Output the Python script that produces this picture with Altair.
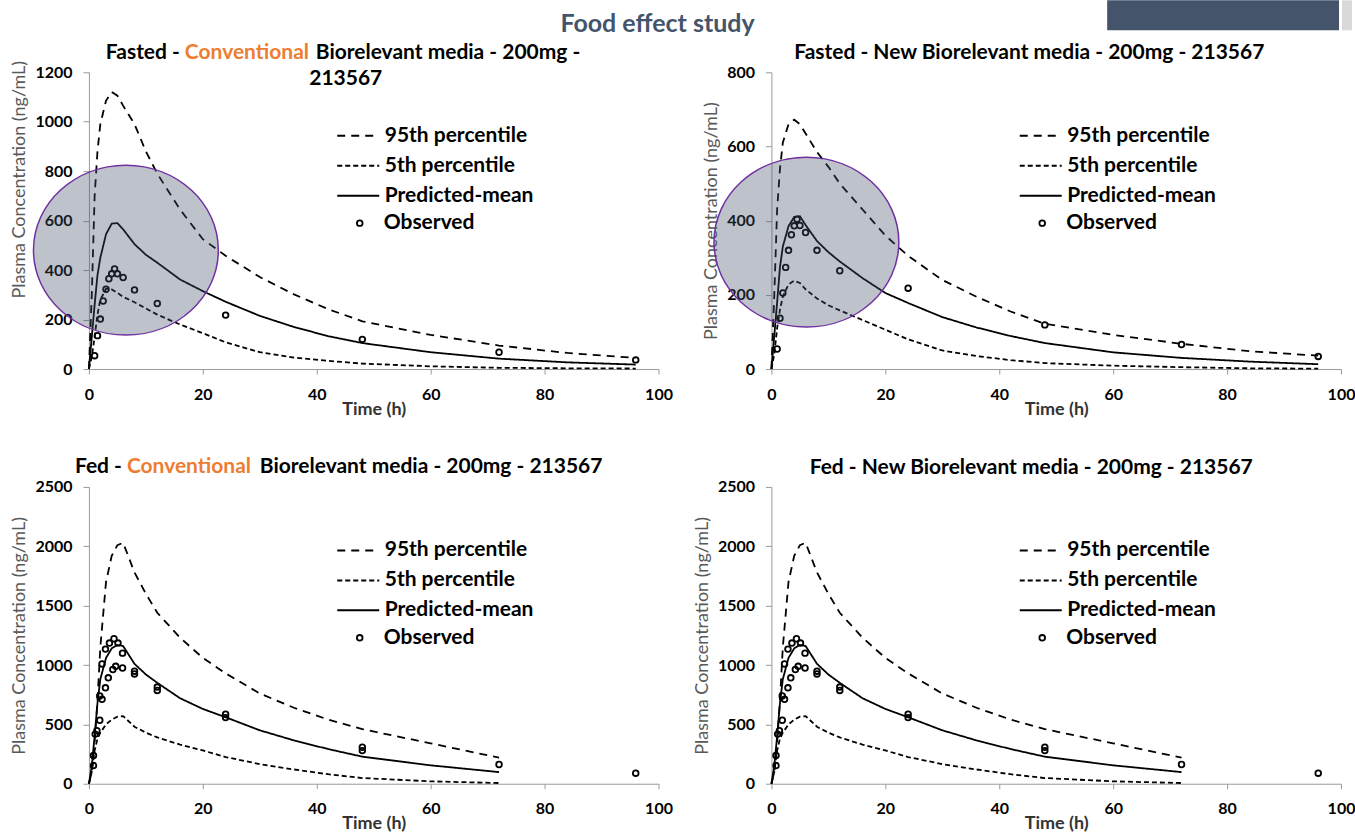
import altair as alt
import pandas as pd

FONT = "Lato"

# ---------------- data ----------------
t_fast = [0, 0.5, 1, 1.5, 2, 3, 4, 5, 6, 8, 10, 12, 16, 20, 24, 30, 36, 42, 48, 60, 72, 84, 96]
t_fed = [0, 0.5, 1, 1.5, 2, 3, 4, 5, 6, 8, 10, 12, 16, 20, 24, 30, 36, 42, 48, 60, 72]

# Fasted - Conventional
fc_p95 = [0, 300, 700, 880, 990, 1085, 1120, 1105, 1065, 990, 880, 790, 645, 525, 458, 372, 302, 242, 193, 138, 95, 65, 45]
fc_mean = [0, 130, 260, 380, 450, 545, 588, 590, 565, 505, 462, 430, 362, 315, 272, 215, 170, 133, 105, 68, 42, 27, 18]
fc_p5 = [0, 50, 130, 220, 280, 325, 322, 308, 292, 270, 245, 220, 180, 145, 108, 68, 46, 33, 22, 11, 5, 3, 2]
fc_obs_t = [1, 1.5, 2, 2.5, 3, 3.5, 4, 4.5, 5, 6, 8, 12, 24, 48, 72, 96]
fc_obs_c = [54, 135, 202, 275, 323, 365, 385, 405, 385, 370, 320, 265, 218, 120, 68, 37]

# Fasted - New
fn_p95 = [0, 200, 430, 540, 610, 660, 672, 660, 635, 585, 545, 500, 430, 360, 305, 240, 195, 155, 122, 92, 68, 48, 36]
fn_mean = [0, 90, 180, 275, 330, 385, 410, 412, 388, 345, 315, 290, 245, 205, 178, 140, 112, 89, 70, 45, 30, 20, 13]
fn_p5 = [0, 40, 110, 160, 195, 228, 238, 232, 215, 190, 172, 158, 132, 106, 80, 50, 35, 24, 16, 9, 5, 2, 1]
fn_obs_t = [1, 1.5, 2, 2.5, 3, 3.5, 4, 4.5, 5, 6, 8, 12, 24, 48, 72, 96]
fn_obs_c = [54, 137, 205, 274, 320, 362, 386, 404, 387, 368, 320, 265, 218, 119, 66, 34]

# Fed (conventional and new look the same)
fed_p95 = [0, 100, 350, 700, 1150, 1700, 1920, 2010, 2030, 1780, 1600, 1440, 1230, 1060, 930, 760, 640, 540, 460, 340, 220]
fed_mean = [0, 150, 400, 680, 880, 1060, 1140, 1170, 1160, 1010, 920, 850, 720, 630, 560, 450, 365, 292, 228, 155, 98]
fed_p5 = [0, 100, 280, 380, 430, 500, 540, 565, 570, 480, 430, 390, 330, 280, 225, 165, 120, 80, 48, 20, 6]
fed_obs_t = [0.8, 0.8, 1.1, 1.4, 1.9, 1.9, 2.3, 2.3, 2.9, 3.4, 2.9, 3.6, 4.2, 4.7, 4.4, 5.1, 5.9, 5.9,
             8, 8, 12, 12, 24, 24, 48, 48, 72, 96]
fed_obs_c = [153, 237, 418, 446, 535, 739, 711, 1009, 808, 892, 1134, 1185, 962, 989, 1221, 1185, 975, 1100,
             948, 925, 814, 786, 585, 557, 307, 279, 162, 89]

SERIES = ["95th percentile", "5th percentile", "Predicted-mean"]
W, H = 570, 297

ELLIPSE = ("M1,0 C1,0.5076 0.5523,0.919 0,0.919 C-0.5523,0.919 -1,0.5076 -1,0 "
           "C-1,-0.5076 -0.5523,-0.919 0,-0.919 C0.5523,-0.919 1,-0.5076 1,0 Z")


def one():
    return alt.Data(values=[{"k": 1}])


def txt(text, x, y, align="center", color="black", size=21, weight="bold"):
    return alt.Chart(one()).mark_text(
        text=text, align=align, baseline="middle", font=FONT, fontSize=size,
        fontWeight=weight, color=color
    ).encode(x=alt.value(x), y=alt.value(y))


def panel(times, p95, p5, mean, obs_t, obs_c, ymax, ystep, texts, ellipse=None, extra=None, ytitle_y=None):
    rows = []
    for name, vals in zip(SERIES, [p95, p5, mean]):
        for t, c in zip(times, vals):
            rows.append({"t": t, "c": c, "series": name})
    df = pd.DataFrame(rows)
    obs = pd.DataFrame({"t": obs_t, "c": obs_c})

    xaxis = alt.Axis(values=[0, 20, 40, 60, 80, 100], title="Time (h)", grid=False, format="d",
                     tickSize=5, labelPadding=12, domainColor="#9a9a9a", tickColor="#9a9a9a",
                     labelFont=FONT, labelFontSize=16, labelFontWeight="bold", labelColor="black",
                     titleFont=FONT, titleFontSize=18, titleFontWeight="bold", titleColor="#333333",
                     titlePadding=-2, labelFlush=False)
    yargs = dict(values=list(range(0, ymax + 1, ystep)), title="Plasma Concentration (ng/mL)",
                 grid=False, format="d", tickSize=6, labelPadding=11, domainColor="#9a9a9a",
                 tickColor="#9a9a9a", labelFont=FONT, labelFontSize=16, labelFontWeight="bold",
                 labelColor="black", titleFont=FONT, titleFontSize=18, titleFontWeight="normal",
                 titleColor="#595959", titlePadding=6)
    if ytitle_y is not None:
        yargs["titleY"] = ytitle_y
    yaxis = alt.Axis(**yargs)
    xs = alt.Scale(domain=[0, 100], nice=False)
    ys = alt.Scale(domain=[0, ymax], nice=False)

    lines = alt.Chart(df).mark_line(color="black", strokeWidth=1.8).encode(
        x=alt.X("t:Q", scale=xs, axis=xaxis),
        y=alt.Y("c:Q", scale=ys, axis=yaxis),
        strokeDash=alt.StrokeDash(
            "series:N",
            scale=alt.Scale(domain=SERIES, range=[[8, 6], [5, 3], [1, 0]]),
            legend=alt.Legend(title=None, orient="none", legendX=258, legendY=52, padding=0,
                              symbolType="M-2,0L2,0", symbolSize=441, symbolStrokeWidth=2,
                              symbolStrokeColor="black", labelOffset=15, rowPadding=8,
                              labelFont=FONT, labelFontSize=21, labelFontWeight="bold",
                              labelColor="black"),
        ),
    )
    pts = alt.Chart(obs).mark_point(shape="circle", filled=False, color="black", strokeWidth=1.8,
                                    size=32, opacity=1).encode(x="t:Q", y="c:Q")
    # "Observed" legend entry
    obs_key = alt.Chart(one()).mark_point(shape="circle", filled=False, color="black",
                                          strokeWidth=1.8, size=32, opacity=1).encode(
        x=alt.value(271), y=alt.value(151))
    obs_lab = txt("Observed", 295, 151, align="left")

    layers = [lines, pts]
    if ellipse is not None:
        ex, ey = ellipse
        layers.append(alt.Chart(one()).mark_point(
            shape=ELLIPSE, size=34225, filled=True, fill="#44546A", fillOpacity=0.35,
            stroke="#7030A0", strokeWidth=1.5, strokeOpacity=1, opacity=1
        ).encode(x=alt.value(ex), y=alt.value(ey)))
    layers += [obs_key, obs_lab]
    layers += texts
    if extra:
        layers += extra
    return alt.layer(*layers).properties(width=W, height=H)


ORANGE = "#ED7D31"

p1 = panel(t_fast, fc_p95, fc_p5, fc_mean, fc_obs_t, fc_obs_c, 1200, 200, [
    txt("Fasted -", 91, -19, align="right"),
    txt("Conventional", 96, -19, align="left", color=ORANGE),
    txt("Biorelevant media - 200mg -", 227, -19, align="left"),
    txt("213567", 257, 7),
    txt("Food effect study", 569, -48, size=25, color="#44546A"),
], ellipse=(37, 178), ytitle_y=107)

p2 = panel(t_fast, fn_p95, fn_p5, fn_mean, fn_obs_t, fn_obs_c, 800, 100, [
    txt("Fasted - New Biorelevant media - 200mg - 213567", 258, -19),
], ellipse=(35, 170), extra=[
    alt.Chart(one()).mark_rect(color="#44546A").encode(
        x=alt.value(336), x2=alt.value(568), y=alt.value(-72), y2=alt.value(-42)),
    alt.Chart(one()).mark_rect(color="#D9D9D9").encode(
        x=alt.value(571), x2=alt.value(581), y=alt.value(-72), y2=alt.value(-42)),
])

p3 = panel(t_fed, fed_p95, fed_p5, fed_mean, fed_obs_t, fed_obs_c, 2500, 500, [
    txt("Fed -", 33, -20, align="right"),
    txt("Conventional", 38, -20, align="left", color=ORANGE),
    txt("Biorelevant media - 200mg - 213567", 171, -20, align="left"),
])

p4 = panel(t_fed, fed_p95, fed_p5, fed_mean, fed_obs_t, fed_obs_c, 2500, 500, [
    txt("Fed - New Biorelevant media - 200mg - 213567", 260, -19),
])

chart = alt.concat(p1, p2, p3, p4, columns=2, spacing={"row": 118, "column": 113},
                   bounds="flush").resolve_scale(
    strokeDash="independent").resolve_legend(strokeDash="independent").properties(
    padding={"left": 10, "top": 0, "right": 0, "bottom": 0},
    background="white",
).configure_view(stroke=None)

chart.save("out.html", embed_options={"renderer": "svg", "actions": False})
